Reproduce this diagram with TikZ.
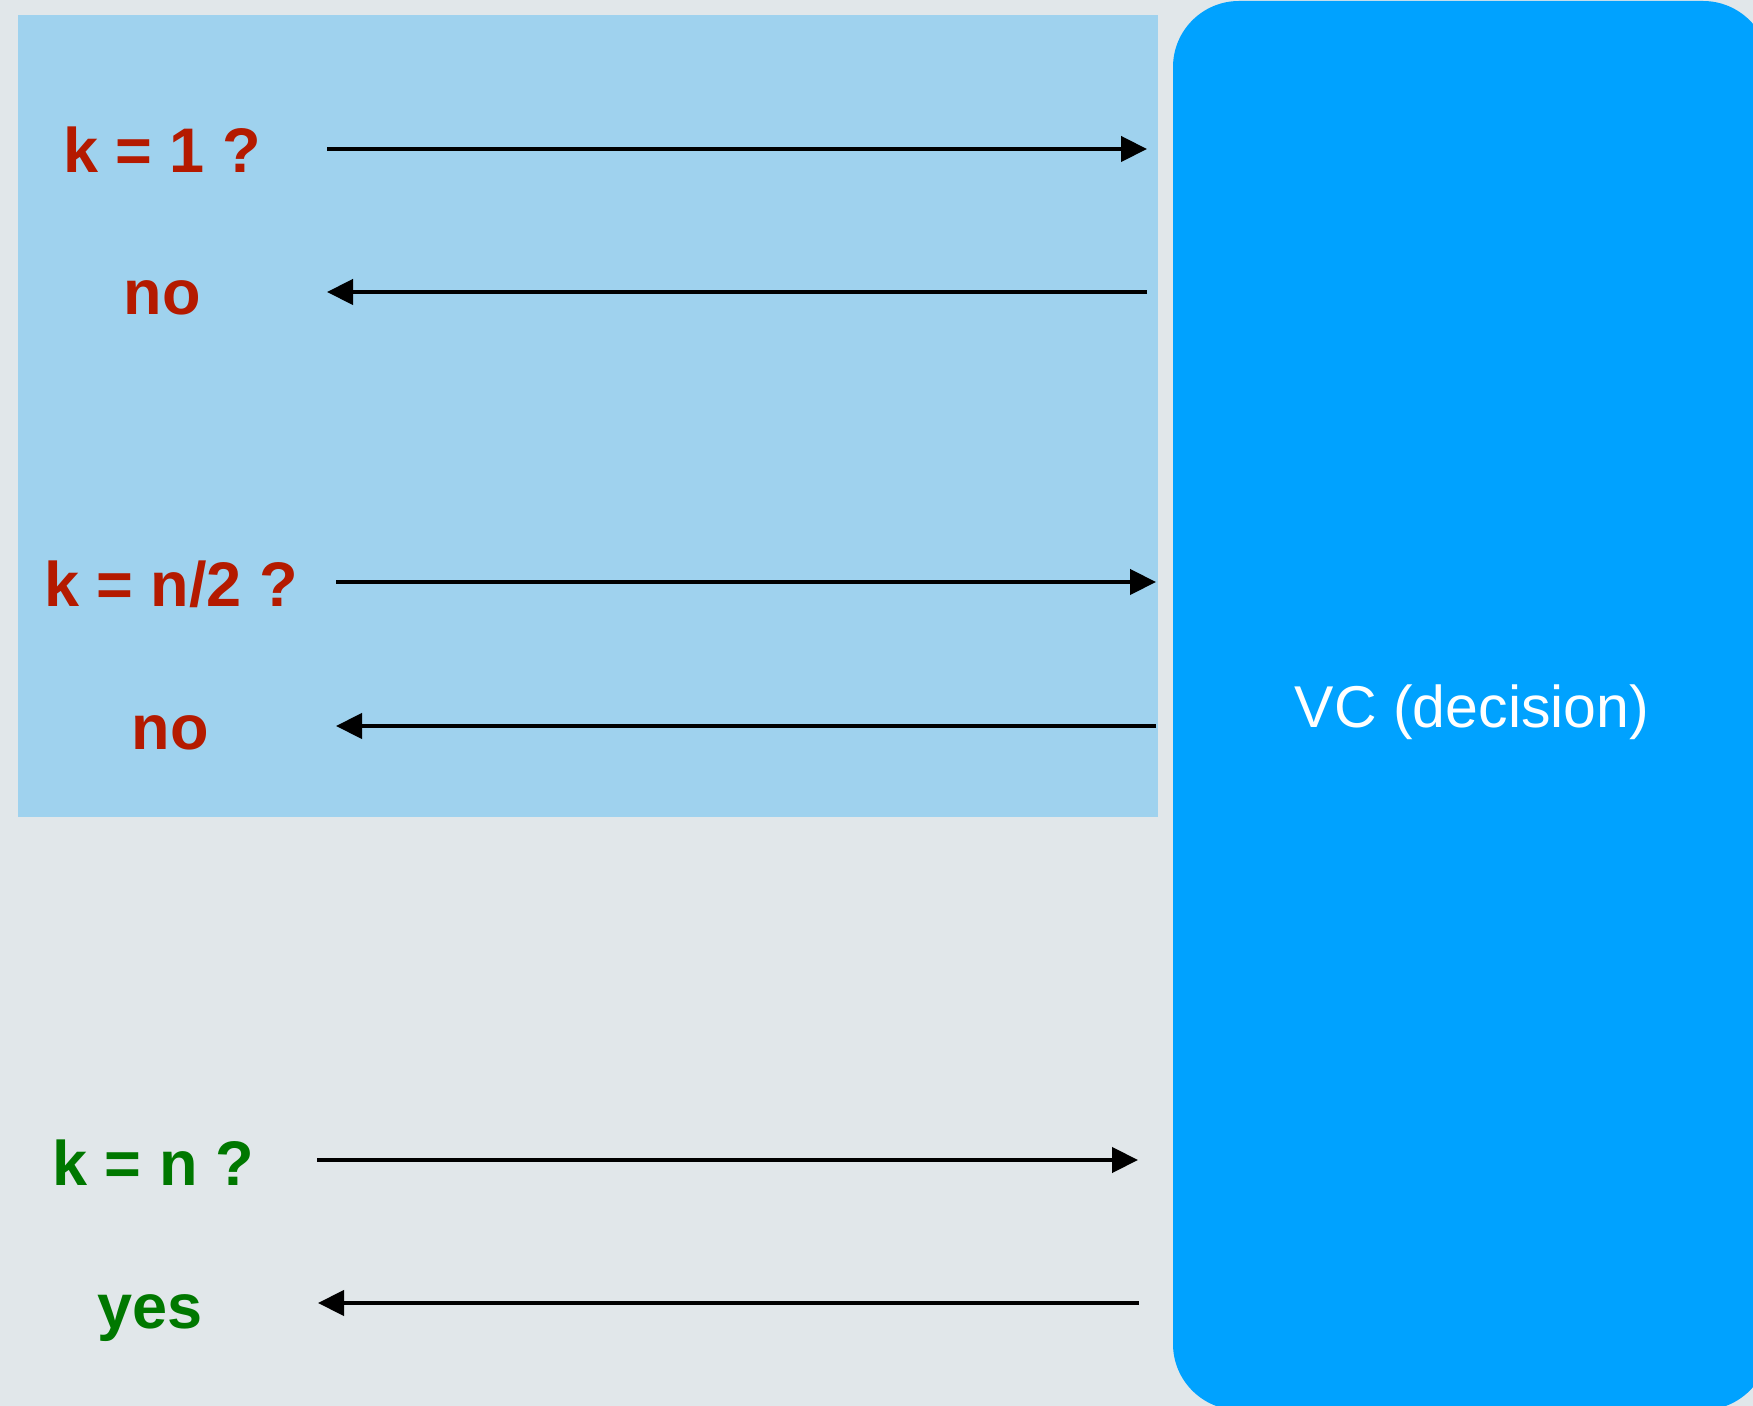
\documentclass[tikz,border=0pt]{standalone}
\usepackage{fontspec}
\setmainfont{Liberation Sans}
\usetikzlibrary{arrows.meta}

\definecolor{pagebg}{HTML}{E1E7EA}
\definecolor{panelblue}{HTML}{9FD2EE}
\definecolor{vcblue}{HTML}{00A2FF}
\definecolor{noRed}{HTML}{B41A00}
\definecolor{yesGreen}{HTML}{007800}

\tikzset{
  query/.style={anchor=base, inner sep=0pt, font=\fontsize{31.5pt}{36pt}\selectfont\bfseries},
  redtxt/.style={query, text=noRed},
  greentxt/.style={query, text=yesGreen},
  msg/.style={line width=2.2pt, -{Triangle[length=13pt,width=12.5pt]}}
}

\begin{document}
\begin{tikzpicture}[x=0.5pt, y=-0.5pt]
  % page and background
  \useasboundingbox (0,0) rectangle (1753,1406);
  \fill[pagebg] (0,0) rectangle (1753,1406);
  \clip (0,0) rectangle (1753,1406);

  % shaded area covering the first two rounds
  \fill[panelblue] (18,15) rectangle (1158,817);

  % verifier box, running off the right and bottom edges
  \fill[vcblue, rounded corners=33pt] (1173,1) rectangle (1769,1410);
  \node[anchor=base, inner sep=0pt, text=white,
        font=\fontsize{29.5pt}{34pt}\selectfont] (vc) at (1472,728) {VC (decision)};

  % labels
  \node[redtxt]   (q1) at (162,173)  {k = 1 ?};
  \node[redtxt]   (a1) at (162,315)  {no};
  \node[redtxt]   (q2) at (171,607)  {k = n/2 ?};
  \node[redtxt]   (a2) at (170,750)  {no};
  \node[greentxt] (q3) at (153,1185) {k = n ?};
  \node[greentxt] (a3) at (150,1328) {yes};

  % connector ends
  \coordinate (q1s) at (327,149);  \coordinate (q1e) at (1147,149);
  \coordinate (a1s) at (1147,292); \coordinate (a1e) at (327,292);
  \coordinate (q2s) at (336,582);  \coordinate (q2e) at (1156,582);
  \coordinate (a2s) at (1156,726); \coordinate (a2e) at (336,726);
  \coordinate (q3s) at (317,1160); \coordinate (q3e) at (1138,1160);
  \coordinate (a3s) at (1139,1303);\coordinate (a3e) at (318,1303);

  % messages
  \draw[msg] (q1s) -- (q1e);
  \draw[msg] (a1s) -- (a1e);
  \draw[msg] (q2s) -- (q2e);
  \draw[msg] (a2s) -- (a2e);
  \draw[msg] (q3s) -- (q3e);
  \draw[msg] (a3s) -- (a3e);
\end{tikzpicture}
\end{document}
